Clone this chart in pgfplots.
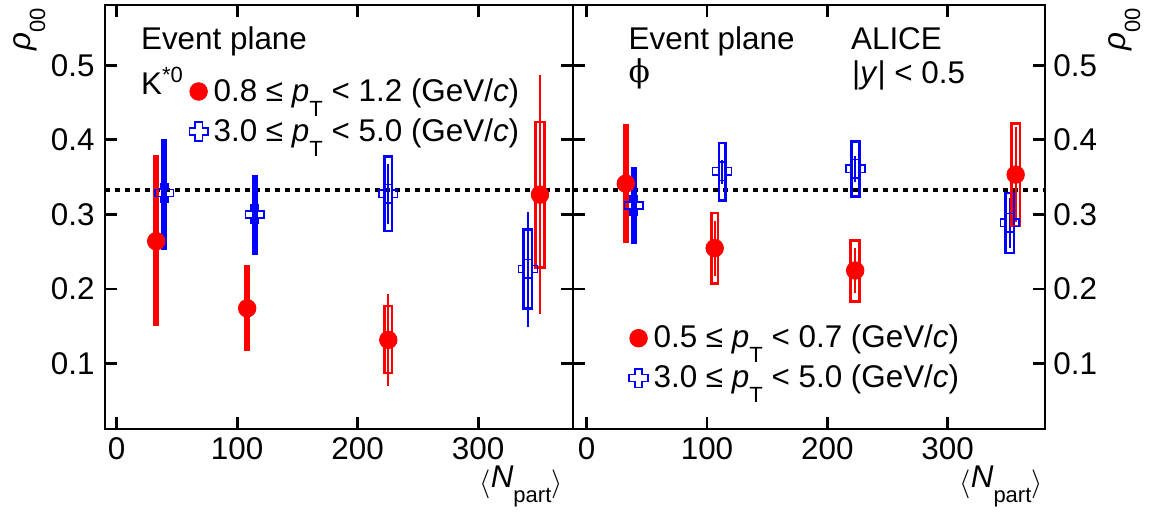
\documentclass[border=0pt]{standalone}
\usepackage{fontspec}
\setmainfont{Liberation Sans}
\newfontfamily\phifont{DejaVu Serif}
\usepackage{pgfplots}
\usepackage{pgfplotstable}
\pgfplotsset{compat=1.18}

\pgfdeclareplotmark{ocross}{%
  \pgfpathmoveto{\pgfqpoint{-0.38\pgfplotmarksize}{\pgfplotmarksize}}%
  \pgfpathlineto{\pgfqpoint{0.38\pgfplotmarksize}{\pgfplotmarksize}}%
  \pgfpathlineto{\pgfqpoint{0.38\pgfplotmarksize}{0.38\pgfplotmarksize}}%
  \pgfpathlineto{\pgfqpoint{\pgfplotmarksize}{0.38\pgfplotmarksize}}%
  \pgfpathlineto{\pgfqpoint{\pgfplotmarksize}{-0.38\pgfplotmarksize}}%
  \pgfpathlineto{\pgfqpoint{0.38\pgfplotmarksize}{-0.38\pgfplotmarksize}}%
  \pgfpathlineto{\pgfqpoint{0.38\pgfplotmarksize}{-\pgfplotmarksize}}%
  \pgfpathlineto{\pgfqpoint{-0.38\pgfplotmarksize}{-\pgfplotmarksize}}%
  \pgfpathlineto{\pgfqpoint{-0.38\pgfplotmarksize}{-0.38\pgfplotmarksize}}%
  \pgfpathlineto{\pgfqpoint{-\pgfplotmarksize}{-0.38\pgfplotmarksize}}%
  \pgfpathlineto{\pgfqpoint{-\pgfplotmarksize}{0.38\pgfplotmarksize}}%
  \pgfpathlineto{\pgfqpoint{-0.38\pgfplotmarksize}{0.38\pgfplotmarksize}}%
  \pgfpathclose\pgfusepathqstroke}

\newcommand{\fs}{\fontsize{15.7}{18.5}\selectfont}
\newcommand{\sub}[1]{\raisebox{-7.5pt}{\fontsize{11}{12}\selectfont #1}}
\newcommand{\pT}{\textit{p}\sub{T}}

% K*0 data: x, y, stat+, stat-
\pgfplotstableread{
x y ep em
39.5 0.3286 0.0709 0.0746
114.5 0.300 0.0515 0.053
225.4 0.3278 0.0402 0.0403
341.2 0.227 0.076 0.0785
}\Kblue
\pgfplotstableread{
x y ep em
32.8 0.264 0.114 0.112
108.3 0.174 0.056 0.055
225.4 0.1316 0.0614 0.0616
351.3 0.3265 0.1605 0.160
}\Kred
% phi data
\pgfplotstableread{
x y ep em
39.0 0.312 0.0494 0.0506
112.6 0.3578 0.0148 0.0168
223.4 0.3614 0.0176 0.018
351.6 0.2889 0.033 0.034
}\Pblue
\pgfplotstableread{
x y ep em
32.5 0.3413 0.0783 0.0785
106.4 0.2547 0.037 0.038
223.2 0.2247 0.030 0.030
356.6 0.3534 0.064 0.064
}\Pred

\pgfplotsset{
  panel/.style={
    scale only axis, height=212pt,
    ymin=0.012, ymax=0.581,
    xtick={0,100,200,300}, ytick={0.1,0.2,0.3,0.4,0.5},
    minor tick num=0,
    tick align=inside, major tick length=6pt,
    xtick pos=both, ytick pos=both, xticklabel pos=lower,
    axis line style={line width=1.4pt},
    tick style={black, line width=1.4pt},
    ticklabel style={font=\fs},
    /pgf/number format/assume math mode=true,
    yticklabel style={/pgf/number format/fixed, /pgf/number format/precision=1, /pgf/number format/fixed zerofill},
    xticklabel style={inner sep=0pt, yshift=-4pt},
    legend cell align=left,
    reverse legend,
    legend image code/.code={\draw[mark repeat=2,mark phase=2] plot coordinates {(0pt,0pt)(4.5pt,0pt)(9pt,0pt)};},
  },
  legst/.style={legend style={draw=none, fill=none, inner sep=0pt, outer sep=0pt, font=\fs,
    row sep=4.5pt, nodes={inner sep=0pt, text height=12.5pt, text depth=3pt},
    /tikz/every odd column/.append style={column sep=2.8pt}}},
  stat/.style={only marks, error bars/.cd, y dir=both, y explicit, error mark=none,
    error bar style={line width=1pt, solid}},
  redpt/.style={red, mark=*, mark size=4.4pt, mark options={solid, fill=red}},
  bluept/.style={blue, mark=ocross, mark size=4.7pt, mark options={solid, line width=0.7pt}},
  box/.style={line width=1.3pt, forget plot, mark=none, line join=miter},
  ref/.style={black, line width=2pt, dash pattern=on 2.7pt off 2.3pt, forget plot},
}

\begin{document}
\begin{tikzpicture}
\begin{scope}[x=0.5pt,y=-0.5pt]
\path[use as bounding box] (0,0) rectangle (1151,514);
\end{scope}

% ---------- left panel: K*0 ----------
\begin{axis}[panel, legst, at={(52.5pt,-214.5pt)}, anchor=south west, width=234pt,
  xmin=-9.7, xmax=378.7,
  yticklabel pos=left,
  yticklabel style={inner sep=0pt, xshift=-5pt},
  legend style={at={(0.180,0.8325)}, anchor=north west}]
\addplot[ref] coordinates {(-9.7,0.33333)(378.7,0.33333)};
% blue systematic boxes
\addplot[blue, box] coordinates {(38.09,0.254)(40.91,0.254)(40.91,0.3995)(38.09,0.3995)} -- cycle;
\addplot[blue, box] coordinates {(113.09,0.247)(115.91,0.247)(115.91,0.3515)(113.09,0.3515)} -- cycle;
\addplot[blue, box] coordinates {(222.33,0.2776)(228.47,0.2776)(228.47,0.378)(222.33,0.378)} -- cycle;
\addplot[blue, box] coordinates {(337.71,0.174)(344.69,0.174)(344.69,0.2794)(337.71,0.2794)} -- cycle;
\addplot[bluept, stat] table[x=x, y=y, y error plus=ep, y error minus=em] {\Kblue};
\addlegendentry{3.0 ≤ \pT\ < 5.0 (GeV/\textit{c})}
% red systematic boxes
\addplot[red, box] coordinates {(31.39,0.152)(34.21,0.152)(34.21,0.378)(31.39,0.378)} -- cycle;
\addplot[red, box] coordinates {(106.89,0.119)(109.71,0.119)(109.71,0.230)(106.89,0.230)} -- cycle;
\addplot[red, box] coordinates {(222.33,0.087)(228.47,0.087)(228.47,0.177)(222.33,0.177)} -- cycle;
\addplot[red, box] coordinates {(347.65,0.229)(354.95,0.229)(354.95,0.424)(347.65,0.424)} -- cycle;
\addplot[redpt, stat] table[x=x, y=y, y error plus=ep, y error minus=em] {\Kred};
\addlegendentry{0.8 ≤ \pT\ < 1.2 (GeV/\textit{c})}
\end{axis}

% ---------- right panel: phi ----------
\begin{axis}[panel, legst, at={(286.5pt,-214.5pt)}, anchor=south west, width=236pt,
  xmin=-11.4, xmax=381,
  yticklabel pos=right,
  yticklabel style={inner sep=0pt, xshift=4pt},
  legend style={at={(0.119,0.2507)}, anchor=north west}]
\addplot[ref] coordinates {(-11.4,0.33333)(381,0.33333)};
\addplot[blue, box] coordinates {(37.59,0.2614)(40.41,0.2614)(40.41,0.3614)(37.59,0.3614)} -- cycle;
\addplot[blue, box] coordinates {(109.94,0.3188)(115.26,0.3188)(115.26,0.3958)(109.94,0.3958)} -- cycle;
\addplot[blue, box] coordinates {(219.91,0.324)(226.89,0.324)(226.89,0.398)(219.91,0.398)} -- cycle;
\addplot[blue, box] coordinates {(347.99,0.248)(355.21,0.248)(355.21,0.3286)(347.99,0.3286)} -- cycle;
\addplot[bluept, stat] table[x=x, y=y, y error plus=ep, y error minus=em] {\Pblue};
\addlegendentry{3.0 ≤ \pT\ < 5.0 (GeV/\textit{c})}
\addplot[red, box] coordinates {(31.09,0.2628)(33.91,0.2628)(33.91,0.4196)(31.09,0.4196)} -- cycle;
\addplot[red, box] coordinates {(103.62,0.2069)(109.18,0.2069)(109.18,0.3017)(103.62,0.3017)} -- cycle;
\addplot[red, box] coordinates {(219.42,0.1835)(226.98,0.1835)(226.98,0.265)(219.42,0.265)} -- cycle;
\addplot[red, box] coordinates {(352.99,0.2843)(360.21,0.2843)(360.21,0.4219)(352.99,0.4219)} -- cycle;
\addplot[redpt, stat] table[x=x, y=y, y error plus=ep, y error minus=em] {\Pred};
\addlegendentry{0.5 ≤ \pT\ < 0.7 (GeV/\textit{c})}
\end{axis}

\begin{scope}[x=0.5pt,y=-0.5pt, every node/.style={inner sep=0pt, font=\fs}]
\node[anchor=base west] at (140.7,49.3) {Event plane};
\node[anchor=base west] at (140.7,94) {K\raisebox{6pt}{\fontsize{11}{12}\selectfont *0}};
\node[anchor=base west] at (628.3,49.3) {Event plane};
\node[anchor=base west] at (628.3,82) {{\phifont ϕ}};
\node[anchor=base west] at (850.7,49.3) {ALICE};
\node[anchor=base west] at (851.7,83.3) {|\textit{y}| < 0.5};
\node[rotate=90, anchor=base east] at (30,8) {\textit{ρ}\sub{00}};
\node[rotate=90, anchor=base east] at (1125,8) {\textit{ρ}\sub{00}};
\node[anchor=base east] at (563,487) {\raisebox{-2.2pt}{$\langle$}\textit{N}\sub{part}\raisebox{-2.2pt}{$\rangle$}};
\node[anchor=base east] at (1043,487) {\raisebox{-2.2pt}{$\langle$}\textit{N}\sub{part}\raisebox{-2.2pt}{$\rangle$}};
\end{scope}
\end{tikzpicture}
\end{document}
